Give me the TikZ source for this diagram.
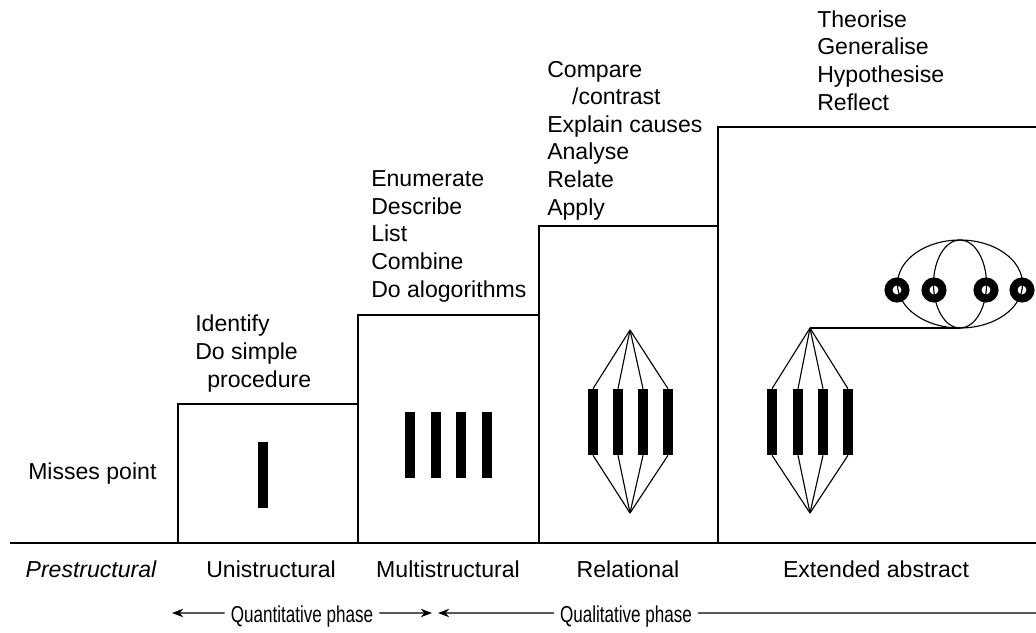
\documentclass[tikz,border=0pt]{standalone}
\usepackage{fontspec}
\setmainfont{Liberation Sans}
\usetikzlibrary{arrows.meta}

\begin{document}
\begin{tikzpicture}[
    x=0.025cm, y=-0.025cm,
    font=\fontsize{16.4}{19.6}\selectfont,
	verbs/.style={
	  anchor=base west,
	  align=left,
	  inner sep=0pt
	},
	level/.style={
	  anchor=base,
	  inner sep=0pt
	},
	phase/.style={
	  anchor=base,
	  text height=12.8pt,
	  text depth=0pt,
	  inner sep=0.15cm
	},
	bar/.style={
	  rectangle,
	  fill=black,
	  inner sep=0pt,
	  minimum width=0.23cm,
	  minimum height=1.65cm
	},
	widebar/.style={bar, minimum width=0.26cm},
	ring/.style={
	  circle,
	  draw=black,
	  line width=0.2cm,
	  minimum size=0.425cm,
	  inner sep=0pt
	},
	stepline/.style={draw, line width=1.3pt},
 	line/.style={draw, line width=0.8pt}
	]
	\useasboundingbox (0,0) rectangle (1036,632);
	% ground and steps
	\coordinate (g0) at (10,543);
	\coordinate (g1) at (1036,543);
	\path[stepline] (g0) -- (g1);
	\path[stepline] (178,543) -- (178,404) -- (358,404);
	\path[stepline] (358,543) -- (358,315) -- (539,315);
	\path[stepline] (539,543) -- (539,226) -- (718,226);
	\path[stepline] (718,543) -- (718,127) -- (1036,127);
	% verbs (anchored at the baseline of the last line)
	\node [verbs] at (28,479) (misses) {Misses point};
	\node [verbs] at (195,387) (univerbs) {Identify\\Do simple\\\hspace*{0.3cm}procedure};
	\node [verbs] at (371,297) (multiverbs) {Enumerate\\Describe\\List\\Combine\\Do alogorithms};
	\node [verbs] at (547,215) (relverbs) {Compare\\\hspace*{0.62cm}/contrast\\Explain causes\\Analyse\\Relate\\Apply};
	\node [verbs] at (817,110) (extverbs) {Theorise\\Generalise\\Hypothesise\\Reflect};
	% level names
	\node [level] at (91,577) (pre) {\itshape Prestructural};
	\node [level] at (271,577) (uni) {Unistructural};
	\node [level] at (448,577) (multi) {Multistructural};
	\node [level] at (628,577) (rel) {Relational};
	\node [level] at (876,577) (ext) {Extended abstract};
	% phases
	\node [phase] at (302,622) (quant) {\scalebox{0.74}[1]{Quantitative phase}};
	\node [phase] at (626,622) (qual) {\scalebox{0.74}[1]{Qualitative phase}};
	\coordinate (quantL) at (172,613);
	\coordinate (quantR) at (432,613);
	\coordinate (qualL) at (438,613);
	\coordinate (qualR) at (1036,613);
	\draw[line, -{Stealth[length=8pt]}] (quant.west) -- (quantL);
	\draw[line, -{Stealth[length=8pt]}] (quant.east) -- (quantR);
	\draw[line, -{Stealth[length=8pt]}] (qual.west) -- (qualL);
	\path[line] (qual.east) -- (qualR);
	% unistructural
	\node [bar] at (263,475) (ub) {};
	% multistructural
	\foreach \x [count=\i] in {410,436,461,487}
	  \node [bar] at (\x,445) (mb\i) {};
	% relational
	\coordinate (rtop) at (630,330);
	\coordinate (rbot) at (630,513);
	\foreach \x [count=\i] in {593,618,643,668} {
	  \node [widebar] at (\x,422) (rb\i) {};
	  \path[line] (rtop) -- (rb\i.north);
	  \path[line] (rb\i.south) -- (rbot);
	}
	% extended abstract
	\coordinate (etop) at (810,328);
	\coordinate (ebot) at (810,513);
	\foreach \x [count=\i] in {772,798,823,848} {
	  \node [widebar] at (\x,422) (eb\i) {};
	  \path[line] (etop) -- (eb\i.north);
	  \path[line] (eb\i.south) -- (ebot);
	}
	\coordinate (knot) at (960,328);
	\path[line] (etop) -- (knot);
	\path[line] (960,284) ellipse [x radius=62.5, y radius=44];
	\path[line] (960,284) ellipse [x radius=26.5, y radius=44];
	\foreach \x [count=\i] in {897,934,986,1022}
	  \node [ring] at (\x,290) (ring\i) {};
  \end{tikzpicture}
\end{document}
